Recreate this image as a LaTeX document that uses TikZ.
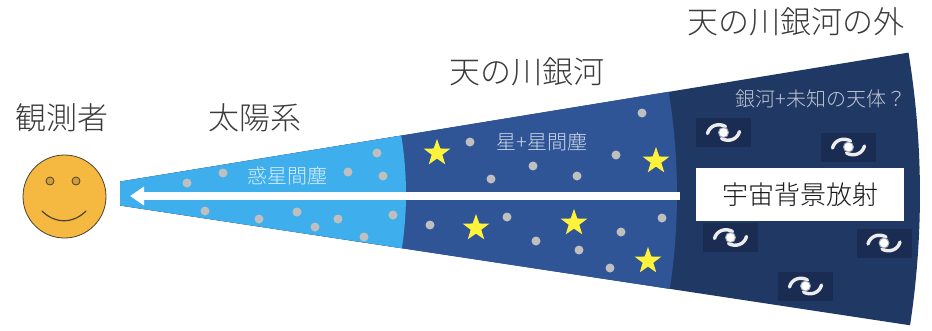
\documentclass[tikz,border=0pt]{standalone}
\usepackage{fontspec}
\setmainfont{Noto Sans CJK JP}[UprightFont={* Light}]
\usetikzlibrary{shapes.geometric,arrows.meta,calc}

\definecolor{dustblue}{HTML}{3FAEEC}
\definecolor{galblue}{HTML}{2F5597}
\definecolor{deepblue}{HTML}{203864}
\definecolor{galbox}{HTML}{1A2C52}
\definecolor{dustgray}{HTML}{BFBFBF}
\definecolor{staryellow}{HTML}{FFF23A}
\definecolor{facefill}{HTML}{F5B942}
\definecolor{faceline}{HTML}{4A4030}
\definecolor{headtext}{HTML}{3A3A3A}

\tikzset{
  heading/.style={text=headtext, font=\fontsize{31}{36}\selectfont, inner sep=0},
  zonelabel/.style={font=\fontsize{20}{24}\selectfont, inner sep=0},
  dust/.style={circle, fill=dustgray, minimum size=9, inner sep=0},
  starmark/.style={star, star points=5, star point ratio=2.5, fill=staryellow,
    minimum size=28, inner sep=0},
  swirl/.style={draw=white!85!gray, line width=3.4, line cap=round},
  galaxy/.pic={
    \node[fill=galbox, minimum width=55, minimum height=29, inner sep=0] (-box) {};
    \draw[swirl] (-16,1) .. controls (-14,-7) and (-5,-10) .. (2,-6);
    \draw[swirl] (16,-1) .. controls (14,7) and (5,10) .. (-2,6);
    \fill[white!60!galbox] (0,0) circle (5.5);
    \fill[white] (0,0) circle (4.3);
  },
  sightline/.style={draw=white, line width=8, -{Triangle[length=14pt,width=18pt]}},
}

\begin{document}
\begin{tikzpicture}[x=1pt, y=-1pt]
  \useasboundingbox (0,0) rectangle (932,330);

  % the cone of sight, seen from its apex
  \coordinate (apex) at (44,194);
  \coordinate (topleft) at (120,181.6);
  \coordinate (botleft) at (120,205.5);

  % outermost zone: beyond the Milky Way
  \fill[deepblue] (topleft) -- ($(apex)+(-9.29:876)$)
    arc[start angle=-9.29, end angle=8.62, radius=876] -- (botleft) -- cycle;
  % Milky Way
  \fill[galblue] (topleft) -- ($(apex)+(-9.29:633)$)
    arc[start angle=-9.29, end angle=8.62, radius=633] -- (botleft) -- cycle;
  % solar system
  \fill[dustblue] (topleft) -- ($(apex)+(-9.29:362)$)
    arc[start angle=-9.29, end angle=8.62, radius=362] -- (botleft) -- cycle;

  % interplanetary and interstellar dust
  \foreach \x/\y [count=\i] in {187/183, 223/173, 205/211, 259/219, 297/212, 315/227,
      338/219, 348/172, 377/153, 383/176, 393/215, 364/237,
      642/113, 470/142, 533/166, 491/179, 577/176, 616/155, 507/217, 430/225,
      536/241, 579/250, 621/232, 662/218, 610/268}
    \node[dust] (dust\i) at (\x,\y) {};

  % stars
  \foreach \x/\y [count=\i] in {437/153, 656/161, 476/228, 574/223, 648/261}
    \node[starmark] (star\i) at (\x,\y) {};

  % galaxies
  \pic (gal1) at (723.5,132.5) {galaxy};
  \pic (gal2) at (848.5,147) {galaxy};
  \pic (gal3) at (730.5,237.5) {galaxy};
  \pic (gal4) at (884,243) {galaxy};
  \pic (gal5) at (805.5,286) {galaxy};

  % line of sight toward the observer
  \coordinate (sightstart) at (680,196);
  \coordinate (sighttip) at (130,196);
  \draw[sightline] (sightstart) -- (sighttip);

  % background radiation label
  \node[fill=white, minimum width=208, minimum height=53, inner sep=0,
        font=\fontsize{26}{30}\selectfont, text=black!90] (cmb) at (800,194.5) {宇宙背景放射};

  % zone labels inside the cone
  \node[zonelabel, text=white!80!dustblue] (dustlabel) at (287,176) {惑星間塵};
  \node[zonelabel, text=white!75!galblue] (starlabel) at (542,142) {星+星間塵};
  \node[zonelabel, text=white!72!deepblue] (gallabel) at (821,99) {銀河+未知の天体？};

  % observer
  \node[circle, fill=facefill, draw=faceline, line width=0.8, minimum size=83, inner sep=0]
    (face) at (64.5,196.5) {};
  \node[circle, fill=facefill!85!black, draw=faceline, line width=0.8, minimum size=8, inner sep=0]
    (eyeL) at (50,181) {};
  \node[circle, fill=facefill!85!black, draw=faceline, line width=0.8, minimum size=8, inner sep=0]
    (eyeR) at (76,181) {};
  \coordinate (smileL) at (42,211);
  \coordinate (smileR) at (86,211);
  \draw[faceline, line width=1.2, line cap=round] (smileL) .. controls (55,224) and (73,224) .. (smileR);

  % headings
  \node[heading] (observer) at (62,118) {観測者};
  \node[heading] (solar) at (255,118) {太陽系};
  \node[heading] (milkyway) at (527,72) {天の川銀河};
  \node[heading] (beyond) at (796,22) {天の川銀河の外};
\end{tikzpicture}
\end{document}
